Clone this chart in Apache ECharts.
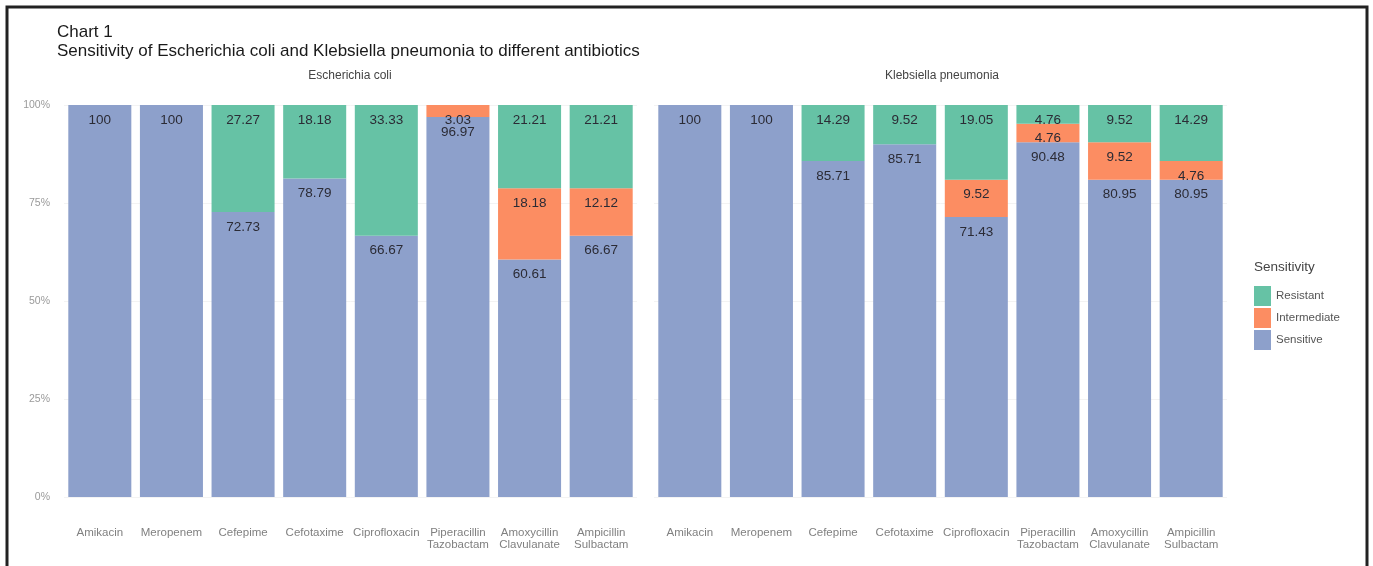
<!DOCTYPE html>
<html>
<head>
<meta charset="utf-8">
<script src="https://cdn.jsdelivr.net/npm/echarts@6/dist/echarts.min.js"></script>
<style>
  html, body { margin: 0; padding: 0; background: #fff; }
  #chart { width: 1373px; height: 566px; }
</style>
</head>
<body>
<div id="chart"></div>
<script>
// antibiotics (same order in both panels)
var drugs = ['Amikacin', 'Meropenem', 'Cefepime', 'Cefotaxime', 'Ciprofloxacin',
    'Piperacillin\nTazobactam', 'Amoxycillin\nClavulanate', 'Ampicillin\nSulbactam'];
var yTicks = [0, 25, 50, 75, 100];

// Escherichia coli (%)
var ecoliSens = [100, 100, 72.73, 78.79, 66.67, 96.97, 60.61, 66.67];
var ecoliInter = [0, 0, 0, 0, 0, 3.03, 18.18, 12.12];
var ecoliRes = [0, 0, 27.27, 18.18, 33.33, 0, 21.21, 21.21];

// Klebsiella pneumonia (%)
var klebSens = [100, 100, 85.71, 85.71, 71.43, 90.48, 80.95, 80.95];
var klebInter = [0, 0, 0, 0, 9.52, 4.76, 9.52, 4.76];
var klebRes = [0, 0, 14.29, 9.52, 19.05, 4.76, 9.52, 14.29];

var colRes = '#66c2a5', colInter = '#fc8d62', colSens = '#8da0cb';
var FONT = 'Liberation Sans, Arial, sans-serif';

// bars are filled to 100% (position = "fill"), labels keep the raw value
function fill(part, a, b, c) {
    return part.map(function (v, i) {
        var tot = a[i] + b[i] + c[i];
        if (!v) return '-';
        return {value: v / tot * 100, raw: v};
    });
}

function mkSeries(name, color, idx, stack, part, a, b, c) {
    return {
        name: name,
        type: 'bar',
        stack: stack,
        xAxisIndex: idx,
        yAxisIndex: idx,
        barWidth: '88%',
        itemStyle: {color: color},
        label: {
            show: true,
            position: 'insideTop',
            distance: 8,
            fontFamily: FONT,
            fontSize: 13.5,
            color: '#2b2b35',
            formatter: function (p) { return p.data.raw; }
        },
        data: fill(part, a, b, c)
    };
}

var chart = echarts.init(document.getElementById('chart'));

var xAx = function (idx) {
    return {
        type: 'category',
        gridIndex: idx,
        data: drugs,
        axisLine: {show: false},
        axisTick: {show: false},
        axisLabel: {
            interval: 0,
            margin: 30,
            verticalAlign: 'top',
            lineHeight: 12,
            fontSize: 11.5,
            color: '#808080',
            fontFamily: FONT
        }
    };
};
var yAx = function (idx) {
    return {
        type: 'value',
        gridIndex: idx,
        min: 0,
        max: 100,
        interval: 25,
        axisLine: {show: false},
        axisTick: {show: false},
        splitLine: {show: true, lineStyle: {color: '#f3f3f3'}},
        axisLabel: {
            show: idx === 0,
            margin: 14,
            fontSize: 10.5,
            color: '#9a9a9a',
            fontFamily: FONT,
            formatter: function (v) { return yTicks.indexOf(v) >= 0 ? v + '%' : ''; }
        }
    };
};

var option = {
    backgroundColor: '#fff',
    animation: false,
    title: {
        text: 'Chart 1\nSensitivity of Escherichia coli and Klebsiella pneumonia to different antibiotics',
        left: 52,
        top: 18,
        textStyle: {
            fontFamily: FONT,
            fontSize: 17,
            fontWeight: 'normal',
            color: '#1a1a1a',
            lineHeight: 19
        }
    },
    legend: {
        data: ['Resistant', 'Intermediate', 'Sensitive'],
        orient: 'vertical',
        left: 1249,
        top: 281,
        icon: 'rect',
        itemWidth: 17,
        itemHeight: 20,
        itemGap: 2,
        textStyle: {fontSize: 11.5, color: '#555', fontFamily: FONT}
    },
    grid: [
        {left: 64, top: 105, width: 573, height: 392},
        {left: 654, top: 105, width: 573, height: 392}
    ],
    xAxis: [xAx(0), xAx(1)],
    yAxis: [yAx(0), yAx(1)],
    graphic: [
        {
            type: 'rect',
            shape: {x: 7, y: 7, width: 1360, height: 620},
            style: {fill: 'none', stroke: '#222', lineWidth: 3}
        },
        {
            type: 'text',
            style: {text: 'Escherichia coli', x: 350, y: 76, textAlign: 'center', textVerticalAlign: 'middle',
                align: 'center', verticalAlign: 'middle',
                fontSize: 12, fill: '#444', fontFamily: FONT}
        },
        {
            type: 'text',
            style: {text: 'Klebsiella pneumonia', x: 942, y: 76, textAlign: 'center', textVerticalAlign: 'middle',
                align: 'center', verticalAlign: 'middle',
                fontSize: 12, fill: '#444', fontFamily: FONT}
        },
        {
            type: 'text',
            style: {text: 'Sensitivity', x: 1254, y: 267, textVerticalAlign: 'middle', verticalAlign: 'middle',
                fontSize: 13.5, fill: '#444', fontFamily: FONT}
        }
    ],
    series: [
        mkSeries('Sensitive', colSens, 0, 'ec', ecoliSens, ecoliSens, ecoliInter, ecoliRes),
        mkSeries('Intermediate', colInter, 0, 'ec', ecoliInter, ecoliSens, ecoliInter, ecoliRes),
        mkSeries('Resistant', colRes, 0, 'ec', ecoliRes, ecoliSens, ecoliInter, ecoliRes),
        mkSeries('Sensitive', colSens, 1, 'kp', klebSens, klebSens, klebInter, klebRes),
        mkSeries('Intermediate', colInter, 1, 'kp', klebInter, klebSens, klebInter, klebRes),
        mkSeries('Resistant', colRes, 1, 'kp', klebRes, klebSens, klebInter, klebRes)
    ]
};

chart.setOption(option);
</script>
</body>
</html>
